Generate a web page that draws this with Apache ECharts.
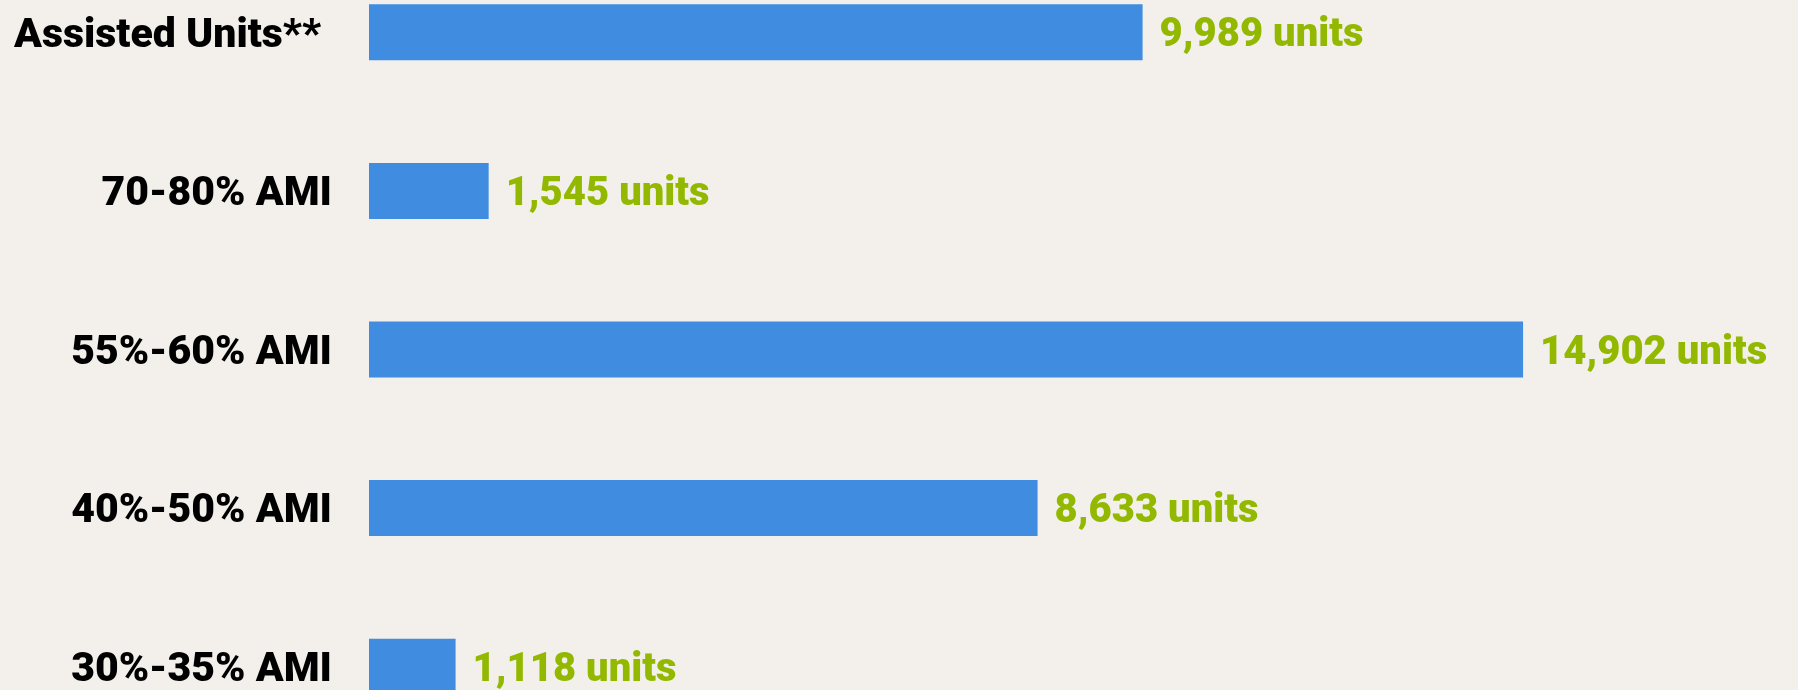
<!DOCTYPE html>
<html>
<head>
<meta charset="utf-8">
<script src="https://cdn.jsdelivr.net/npm/echarts@6/dist/echarts.min.js"></script>
<style>
    html, body { margin: 0; padding: 0; background: #f3f0eb; overflow: hidden; }
    /* 图表比窗口高，上下各裁掉一截 */
    #main { width: 1798px; height: 793px; margin-top: -47px; }
</style>
</head>
<body>
<div id="main"></div>
<script>
    var categories = ['Assisted Units**', '70-80% AMI', '55%-60% AMI', '40%-50% AMI', '30%-35% AMI'];
    var units = [9989, 1545, 14902, 8633, 1118];

    var fontFamily = 'Roboto';

    // 千分位
    function fmt(v) {
        return String(v).replace(/\B(?=(\d{3})+(?!\d))/g, ',');
    }

    var labelText = {
        color: '#000',
        fontFamily: fontFamily,
        fontWeight: 900,
        fontSize: 41
    };

    var chart = echarts.init(document.getElementById('main'));
    chart.setOption({
        backgroundColor: '#f3f0eb',
        animation: false,
        grid: {
            left: 369,
            right: 35,
            top: 0,
            bottom: 0
        },
        xAxis: {
            type: 'value',
            min: 0,
            max: 18000,
            show: false
        },
        yAxis: {
            type: 'category',
            inverse: true,
            data: categories,
            axisLine: {show: false},
            axisTick: {show: false},
            splitLine: {show: false},
            axisLabel: {
                margin: 37,
                color: '#000',
                fontFamily: fontFamily,
                fontWeight: 900,
                fontSize: 41,
                formatter: function (v, i) {
                    // 第一行标签稍微往左
                    return i === 0 ? '{first|' + v + '}' : '{a|' + v + '}';
                },
                rich: {
                    a: Object.assign({padding: [8, 0, 0, 0]}, labelText),
                    first: Object.assign({padding: [8, 11, 0, 0]}, labelText)
                }
            }
        },
        series: [{
            type: 'bar',
            data: units,
            barWidth: 56,
            itemStyle: {color: '#3f8ce1'},
            label: {
                show: true,
                position: 'right',
                distance: 17,
                offset: [0, 4],
                color: '#93b800',
                fontFamily: fontFamily,
                fontWeight: 900,
                fontSize: 40,
                formatter: function (p) {
                    return fmt(p.value) + ' units';
                }
            }
        }]
    });
</script>
</body>
</html>
